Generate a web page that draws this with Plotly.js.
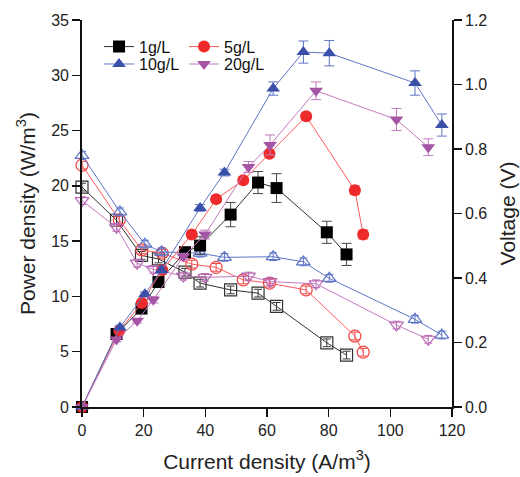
<!DOCTYPE html>
<html>
<head>
<meta charset="utf-8">
<script src="https://cdn.plot.ly/plotly-3.0.1.min.js"></script>
<style>html,body{margin:0;padding:0;background:#fff;}#chart{width:520px;height:477px;}</style>
</head>
<body>
<div id="chart"></div>
<script>
// Current density (A/m^3)
const x1 = [0, 11.2, 19.3, 24.8, 33.4, 38.3, 48.2, 57.1, 63.1, 79.4, 85.8];
const x5 = [0, 12.1, 19.4, 26.0, 35.6, 43.5, 52.3, 60.8, 72.7, 88.5, 91.2];
const x10 = [0, 12.3, 20.4, 25.8, 38.3, 46.2, 62.0, 71.8, 80.2, 108.0, 116.7];
const x20 = [0, 11.2, 17.9, 23.1, 32.9, 39.9, 54.0, 61.0, 75.9, 102.0, 112.3];
// Power density (W/m^3)
const p1 = [0, 6.6, 8.9, 11.3, 14.0, 14.6, 17.4, 20.3, 19.8, 15.8, 13.8];
const p5 = [0, 6.9, 9.4, 12.4, 15.6, 18.8, 20.5, 22.9, 26.3, 19.6, 15.6];
const p10 = [0, 7.2, 10.2, 12.4, 18.0, 21.2, 28.8, 32.1, 32.0, 29.3, 25.5];
const p20 = [0, 6.1, 7.8, 9.7, 13.6, 15.6, 21.7, 23.7, 28.6, 26.0, 23.5];
// Power density error
const pe1 = [0, 0.2, 0.2, 0.3, 0.3, 0.8, 1.1, 1.0, 1.3, 1.0, 1.0];
const pe5 = [0, 0.2, 0.2, 0.3, 0.3, 0.3, 0.3, 0.3, 0.3, 0.4, 0.4];
const pe10 = [0, 0.2, 0.2, 0.3, 0.3, 0.3, 0.6, 1.0, 1.15, 1.1, 1.0];
const pe20 = [0, 0.2, 0.2, 0.3, 0.3, 0.4, 0.5, 0.9, 0.8, 1.0, 0.75];
// Voltage (V)
const v1 = [0.682, 0.579, 0.470, 0.459, 0.418, 0.384, 0.363, 0.353, 0.312, 0.199, 0.161];
const v5 = [0.750, 0.580, 0.487, 0.477, 0.443, 0.433, 0.394, 0.384, 0.363, 0.220, 0.170];
const v10 = [0.780, 0.605, 0.505, 0.481, 0.477, 0.464, 0.466, 0.450, 0.399, 0.272, 0.223];
const v20 = [0.640, 0.557, 0.446, 0.427, 0.406, 0.402, 0.406, 0.389, 0.382, 0.254, 0.210];
const ve = [0.012, 0.012, 0.012, 0.012, 0.012, 0.012, 0.012, 0.012, 0.012, 0.012, 0.012];
const names = ["1g/L", "5g/L", "10g/L", "20g/L"];

const markerCol = ["#000000", "#ee2a2a", "#3a4fa8", "#a455a3"];
const lineCol = ["#333333", "#ff5a5a", "#5d74c8", "#c47ac0"];
const openCol = ["#333333", "#f04545", "#5d74c8", "#b868b5"];
const fillSym = ["square", "circle", "triangle-up", "triangle-down"];
const openSym = ["square-open", "circle-open", "triangle-up-open", "triangle-down-open"];
const X = [x1, x5, x10, x20];
const P = [p1, p5, p10, p20];
const PE = [pe1, pe5, pe10, pe20];
const V = [v1, v5, v10, v20];

const traces = [];
// Voltage traces (open markers), on right axis 'y'
for (let i = 0; i < 4; i++) {
  traces.push({
    x: X[i], y: V[i], yaxis: 'y', type: 'scatter', mode: 'lines+markers',
    showlegend: false, cliponaxis: false,
    line: {color: lineCol[i], width: 1},
    marker: {symbol: openSym[i], size: 12, color: openCol[i], line: {width: 1.2, color: openCol[i]}},
    error_y: {type: 'data', array: ve, color: openCol[i], thickness: 1, width: 4}
  });
}
// Power traces (filled markers), on left axis 'y2'
for (let i = 0; i < 4; i++) {
  traces.push({
    x: X[i], y: P[i], yaxis: 'y2', type: 'scatter', mode: 'lines+markers',
    name: names[i], legend: i < 2 ? 'legend' : 'legend2', cliponaxis: false,
    line: {color: lineCol[i], width: 1},
    marker: {symbol: fillSym[i], size: 12, color: markerCol[i]},
    error_y: {type: 'data', array: PE[i], color: i === 0 ? '#444' : lineCol[i], thickness: 1, width: 5}
  });
}

const axFont = {family: 'Liberation Sans, Arial, sans-serif', size: 16, color: '#222'};
const titleFont = {family: 'Liberation Sans, Arial, sans-serif', size: 21, color: '#222'};
const legendBase = {
  orientation: 'h', bgcolor: 'rgba(0,0,0,0)', borderwidth: 0,
  font: {family: 'Liberation Sans, Arial, sans-serif', size: 16, color: '#111'},
  entrywidth: 40, entrywidthmode: 'pixels', xanchor: 'left', yanchor: 'top',
  itemclick: false
};

const layout = {
  width: 520, height: 477,
  margin: {l: 82, r: 68, t: 20, b: 70},
  paper_bgcolor: '#fff', plot_bgcolor: '#fff',
  showlegend: true,
  xaxis: {
    range: [0, 120], dtick: 20, tick0: 0, showgrid: false, zeroline: false,
    showline: true, linecolor: '#111', linewidth: 1.8,
    ticks: 'outside', ticklen: 8, tickwidth: 1.5, tickcolor: '#111',
    tickfont: axFont,
    title: {text: 'Current density (A/m<sup>3</sup>)', font: titleFont, standoff: 16}
  },
  yaxis: {
    side: 'right', range: [0, 1.2], dtick: 0.2, tick0: 0, tickformat: '.1f',
    showgrid: false, zeroline: false, showline: true, linecolor: '#111', linewidth: 1.8,
    ticks: 'outside', ticklen: 8, tickwidth: 1.5, tickcolor: '#111',
    tickfont: axFont,
    title: {text: 'Voltage (V)', font: titleFont, standoff: 14}
  },
  yaxis2: {
    side: 'left', overlaying: 'y', range: [0, 35], dtick: 5, tick0: 0,
    showgrid: false, zeroline: false, showline: true, linecolor: '#111', linewidth: 1.8,
    ticks: 'outside', ticklen: 8, tickwidth: 1.5, tickcolor: '#111',
    tickfont: axFont,
    title: {text: 'Power density (W/m<sup>3</sup>)', font: titleFont, standoff: 10}
  },
  legend: Object.assign({}, legendBase, {x: 0.046, y: 0.975}),
  legend2: Object.assign({}, legendBase, {x: 0.046, y: 0.93})
};

Plotly.newPlot('chart', traces, layout, {displayModeBar: false, staticPlot: true});
</script>
</body>
</html>
